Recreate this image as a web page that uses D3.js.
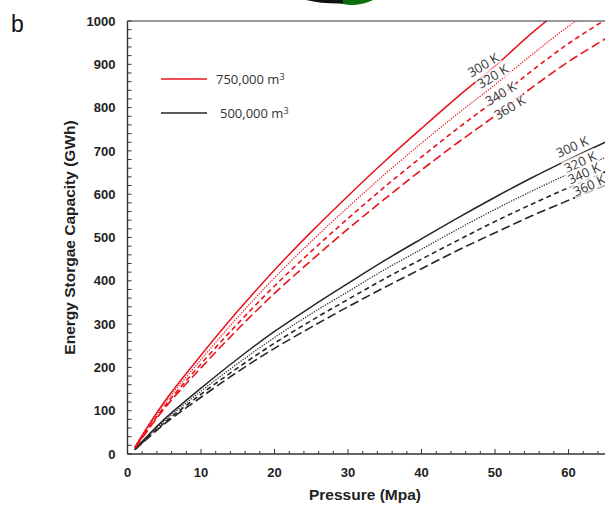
<!DOCTYPE html>
<html>
<head>
<meta charset="UTF-8">
<script src="https://d3js.org/d3.v7.min.js"></script>
<style>
  body { margin: 0; background: #fff; }
  svg { display: block; }
  .tick-label { font-family: "Liberation Sans", Arial, sans-serif; font-weight: bold; font-size: 13px; fill: #222; }
  .axis-title { font-family: "Liberation Sans", Arial, sans-serif; font-weight: bold; font-size: 15.5px; fill: #222; }
  .series-label { font-family: "Open Sans", sans-serif; font-size: 13px; fill: #333; }
  .legend-text { font-family: "Open Sans", sans-serif; font-size: 13px; fill: #333; }
</style>
</head>
<body>
<div id="chart"></div>
<script>
// pressure (MPa) where the curves are sampled
const pressure = [1, 5, 10, 15, 20, 25, 30, 35, 40, 45, 50, 55, 60, 65, 70];

// 750,000 m3 cavern, red
const red300 = [16, 120, 228, 330, 425, 513, 596, 676, 752, 826, 896, 972, 1040, 1100, 1160];
const red320 = [15, 115, 218, 316, 407, 491, 570, 646, 718, 787, 853, 922, 988, 1045, 1102];
const red340 = [14, 109, 208, 301, 388, 468, 544, 617, 686, 753, 817, 885, 948, 1003, 1058];
const red360 = [13, 105, 199, 288, 371, 447, 520, 589, 656, 720, 781, 846, 906, 959, 1012];

// 500,000 m3 cavern, black
const blk300 = [11, 80, 152, 220, 283, 340, 394, 447, 497, 546, 593, 638, 680, 720, 758];
const blk320 = [10, 76, 145, 209, 269, 324, 375, 426, 473, 520, 565, 607, 647, 685, 722];
const blk340 = [10, 72, 138, 199, 256, 308, 357, 405, 450, 494, 537, 577, 615, 652, 686];
const blk360 = [10, 69, 131, 190, 244, 293, 340, 385, 428, 471, 511, 550, 586, 621, 653];

const tempLabels = ["300 K", "320 K", "340 K", "360 K"];
// where the temperature labels sit (pressure, capacity)
const redLabelP = [48.4, 49.7, 50.8, 52.0];
const redLabelE = [898, 872, 832, 800];
const blkLabelP = [60.5, 61.6, 62.1, 62.8];
const blkLabelE = [709, 674, 648, 620];

const xTicks = [0, 10, 20, 30, 40, 50, 60];
const yTicks = [0, 100, 200, 300, 400, 500, 600, 700, 800, 900, 1000];
const legendNames = ["750,000", "500,000"];

const W = 605, H = 505;
const x0 = 127.5, x1 = 605.3, yTop = 21, yBot = 454;

const svg = d3.select("#chart").append("svg")
  .attr("width", W).attr("height", H);

const x = d3.scaleLinear().domain([0, 65]).range([x0, x1]);
const y = d3.scaleLinear().domain([0, 1000]).range([yBot, yTop]);

// piece of the panel above
const topShape = svg.append("g");
topShape.append("clipPath").attr("id", "topclip")
  .append("rect").attr("x", 0).attr("y", 0).attr("width", W).attr("height", 6);
topShape.append("ellipse")
  .attr("cx", 352).attr("cy", -40).attr("rx", 46).attr("ry", 45)
  .attr("fill", "#0a6e0a").attr("clip-path", "url(#topclip)");
topShape.append("path")
  .attr("d", "M306,0 Q322,4 343,3.5 L343,0 Z")
  .attr("fill", "#111");

// panel letter
svg.append("text").attr("x", 11).attr("y", 32)
  .style("font-family", "Liberation Sans, Arial, sans-serif")
  .style("font-size", "23px").attr("fill", "#111").text("b");

// clip for the curves
svg.append("clipPath").attr("id", "plotclip")
  .append("rect").attr("x", x0).attr("y", yTop).attr("width", x1 - x0).attr("height", yBot - yTop);

const line = d3.line()
  .x(d => x(d[0])).y(d => y(d[1]))
  .curve(d3.curveCatmullRom);

const dashes = [null, "1.3 1.3", "5 3.5", "9 4"];
const redSeries = [red300, red320, red340, red360];
const blkSeries = [blk300, blk320, blk340, blk360];

const curves = svg.append("g").attr("clip-path", "url(#plotclip)");
function drawSet(set, color, widths) {
  set.forEach((vals, i) => {
    curves.append("path")
      .datum(pressure.map((p, k) => [p, vals[k]]))
      .attr("d", line)
      .attr("fill", "none")
      .attr("stroke", color)
      .attr("stroke-width", widths[i])
      .attr("stroke-dasharray", dashes[i]);
  });
}
drawSet(blkSeries, "#262626", [1.5, 1.2, 1.6, 1.6]);
drawSet(redSeries, "#e8141b", [1.5, 1.2, 1.6, 1.6]);

// temperature labels with translucent boxes
function drawLabels(ps, es, angle) {
  ps.forEach((p, i) => {
    const g = svg.append("g")
      .attr("transform", `translate(${x(p)},${y(es[i])}) rotate(${angle})`);
    const t = g.append("text").attr("class", "series-label")
      .attr("text-anchor", "middle").attr("dy", "0.35em").text(tempLabels[i]);
    const bb = t.node().getBBox();
    g.insert("rect", "text")
      .attr("x", bb.x - 1).attr("y", bb.y + 2)
      .attr("width", bb.width + 2).attr("height", bb.height - 4)
      .attr("fill", "#fff").attr("opacity", 0.75);
  });
}
drawLabels(redLabelP, redLabelE, -31);
drawLabels(blkLabelP, blkLabelE, -24);

// axes
const axisColor = "#333";
const ax = svg.append("g");
ax.append("line").attr("x1", x0).attr("x2", x0).attr("y1", yTop).attr("y2", yBot)
  .attr("stroke", axisColor).attr("stroke-width", 1.4);
ax.append("line").attr("x1", x0).attr("x2", W).attr("y1", yBot).attr("y2", yBot)
  .attr("stroke", axisColor).attr("stroke-width", 1.4);
ax.append("line").attr("x1", x0).attr("x2", W).attr("y1", yTop).attr("y2", yTop)
  .attr("stroke", axisColor).attr("stroke-width", 1.2);

// y ticks (inside), minor every 20
d3.range(0, 1001, 20).forEach(v => {
  ax.append("line").attr("x1", x0).attr("x2", x0 + 4)
    .attr("y1", y(v)).attr("y2", y(v)).attr("stroke", axisColor).attr("stroke-width", 1);
});
yTicks.forEach(v => {
  ax.append("text").attr("class", "tick-label")
    .attr("x", x0 - 12).attr("y", y(v)).attr("dy", "0.36em")
    .attr("text-anchor", "end").text(v);
});

// x ticks (inside), minor every 2
d3.range(0, 66, 2).forEach(v => {
  const major = v % 10 === 0;
  ax.append("line").attr("x1", x(v)).attr("x2", x(v))
    .attr("y1", yBot).attr("y2", yBot - (major ? 5 : 3))
    .attr("stroke", axisColor).attr("stroke-width", 1);
});
xTicks.forEach(v => {
  ax.append("text").attr("class", "tick-label")
    .attr("x", x(v)).attr("y", yBot + 23)
    .attr("text-anchor", "middle").text(v);
});

// axis titles
svg.append("text").attr("class", "axis-title")
  .attr("x", 365).attr("y", 500).attr("text-anchor", "middle")
  .text("Pressure (Mpa)");
svg.append("text").attr("class", "axis-title")
  .attr("transform", `translate(75,${(yTop + yBot) / 2}) rotate(-90)`)
  .attr("text-anchor", "middle")
  .text("Energy Storgae Capacity (GWh)");

// legend
const legendColors = ["#e8141b", "#262626"];
const legendY = [79, 113];
const legendTextX = [216, 220];
legendNames.forEach((name, i) => {
  svg.append("line").attr("x1", 161).attr("x2", 207)
    .attr("y1", legendY[i]).attr("y2", legendY[i])
    .attr("stroke", legendColors[i]).attr("stroke-width", 1.5);
  const t = svg.append("text").attr("class", "legend-text")
    .attr("x", legendTextX[i]).attr("y", legendY[i]).attr("dy", "0.35em");
  t.append("tspan").text(name + " m");
  t.append("tspan").attr("dy", "-0.45em").style("font-size", "9px").text("3");
});
</script>
</body>
</html>
